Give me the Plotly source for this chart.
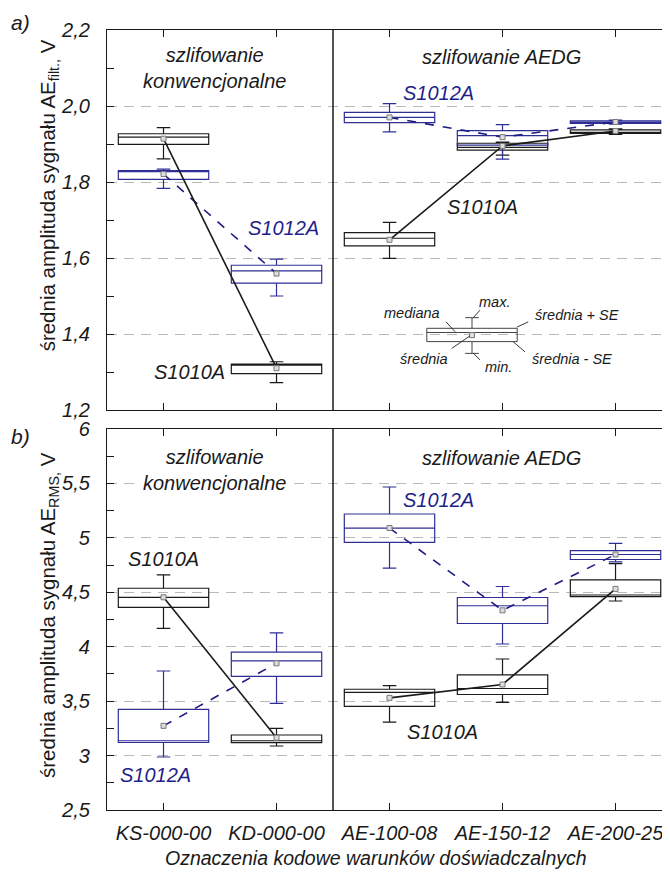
import plotly.graph_objects as go

# ---------------- data ----------------
categories = ["KS-000-00", "KD-000-00", "AE-100-08", "AE-150-12", "AE-200-25"]
xpos = [0, 1, 2, 3, 4]

# panel a) AE_filt
s1010_filt_mean = [1.914, 1.310, 1.648, 1.895, 1.934]
s1010_filt_lo = [1.899, 1.296, 1.632, 1.884, 1.928]
s1010_filt_hi = [1.927, 1.321, 1.667, 1.902, 1.937]
s1010_filt_median = [1.918, 1.318, 1.652, 1.891, 1.930]
s1010_filt_min = [1.861, 1.272, 1.599, 1.871, 1.925]
s1010_filt_max = [1.943, 1.327, 1.694, 1.905, 1.940]

s1012_filt_mean = [1.821, 1.559, 1.970, 1.918, 1.958]
s1012_filt_lo = [1.807, 1.534, 1.956, 1.897, 1.954]
s1012_filt_hi = [1.830, 1.581, 1.983, 1.935, 1.961]
s1012_filt_median = [1.828, 1.566, 1.970, 1.922, 1.957]
s1012_filt_min = [1.783, 1.500, 1.932, 1.860, 1.952]
s1012_filt_max = [1.834, 1.597, 2.006, 1.951, 1.963]

# panel b) AE_RMS
s1010_rms_mean = [4.454, 3.164, 3.530, 3.653, 4.531]
s1010_rms_lo = [4.362, 3.118, 3.451, 3.561, 4.460]
s1010_rms_hi = [4.537, 3.189, 3.609, 3.741, 4.613]
s1010_rms_median = [4.454, 3.136, 3.580, 3.616, 4.475]
s1010_rms_min = [4.169, 3.088, 3.308, 3.488, 4.420]
s1010_rms_max = [4.659, 3.250, 3.642, 3.887, 4.764]

s1012_rms_mean = [3.273, 3.848, 5.090, 4.334, 4.847]
s1012_rms_lo = [3.120, 3.728, 4.959, 4.213, 4.801]
s1012_rms_hi = [3.425, 3.951, 5.219, 4.452, 4.882]
s1012_rms_median = [3.136, 3.869, 5.090, 4.376, 4.847]
s1012_rms_min = [2.987, 3.480, 4.721, 4.025, 4.780]
s1012_rms_max = [3.777, 4.127, 5.467, 4.553, 4.949]

# key (explanation box) in panel a)
key_x = [2.73]
key_mean = [1.397]
key_lo = [1.380]
key_hi = [1.415]
key_median = [1.404]
key_min = [1.349]
key_max = [1.443]

# ---------------- styles ----------------
FONT = "Liberation Sans, Arial, sans-serif"
BLACK = "#1a1a1a"
BLUE_BOX = "#2e2e96"
BLUE_LINE = "#1c1c85"
BLUE_TXT = "#1f1f8c"
GRID = "#b9b9b9"

fig = go.Figure()


def add_box(xs, lo, med, hi, mn, mx, color, xa, ya, lw=1.2):
    fig.add_trace(go.Box(
        x=xs, q1=lo, median=med, q3=hi, lowerfence=mn, upperfence=mx,
        width=0.8, whiskerwidth=0.15, fillcolor="rgba(255,255,255,0)",
        line=dict(color=color, width=lw), marker=dict(size=0),
        boxpoints=False, xaxis=xa, yaxis=ya, showlegend=False, hoverinfo="skip"))


def with_gap(vals):
    return vals[:2] + [None] + vals[2:]


gap_x = with_gap(xpos)


def add_mean_line(means, color, dash, xa, ya):
    fig.add_trace(go.Scatter(
        x=gap_x, y=with_gap(means), mode="lines", connectgaps=False,
        line=dict(color=color, width=1.6, dash=dash),
        xaxis=xa, yaxis=ya, showlegend=False, hoverinfo="skip"))
    fig.add_trace(go.Scatter(
        x=xpos, y=means, mode="markers",
        marker=dict(symbol="square", size=5, color="#dcdcdc",
                    line=dict(color="#7a7a7a", width=1)),
        xaxis=xa, yaxis=ya, showlegend=False, hoverinfo="skip"))


# panel a
add_box(xpos, s1010_filt_lo, s1010_filt_median, s1010_filt_hi, s1010_filt_min, s1010_filt_max, BLACK, "x", "y")
add_box(xpos, s1012_filt_lo, s1012_filt_median, s1012_filt_hi, s1012_filt_min, s1012_filt_max, BLUE_BOX, "x", "y")
add_mean_line(s1012_filt_mean, BLUE_LINE, "dash", "x", "y")
add_mean_line(s1010_filt_mean, BLACK, "solid", "x", "y")
# key
add_box(key_x, key_lo, key_median, key_hi, key_min, key_max, "#444444", "x", "y", lw=1.0)
fig.add_trace(go.Scatter(x=key_x, y=key_mean, mode="markers",
                         marker=dict(symbol="square", size=5, color="#e0e0e0",
                                     line=dict(color="#7a7a7a", width=1)),
                         xaxis="x", yaxis="y", showlegend=False, hoverinfo="skip"))

# panel b
add_box(xpos, s1010_rms_lo, s1010_rms_median, s1010_rms_hi, s1010_rms_min, s1010_rms_max, BLACK, "x2", "y2")
add_box(xpos, s1012_rms_lo, s1012_rms_median, s1012_rms_hi, s1012_rms_min, s1012_rms_max, BLUE_BOX, "x2", "y2")
add_mean_line(s1012_rms_mean, BLUE_LINE, "dash", "x2", "y2")
add_mean_line(s1010_rms_mean, BLACK, "solid", "x2", "y2")

# key leader lines (explanation diagram)
leaders = [
    ([2.742, 2.801], [1.443, 1.463]),
    ([2.500, 2.580], [1.432, 1.406]),
    ([3.126, 3.228], [1.418, 1.432]),
    ([2.550, 2.712], [1.362, 1.395]),
    ([2.742, 2.801], [1.349, 1.332]),
    ([3.093, 3.199], [1.380, 1.353]),
]
for lx, ly in leaders:
    fig.add_trace(go.Scatter(x=lx, y=ly, mode="lines", line=dict(color="#222", width=0.9),
                             xaxis="x", yaxis="y", showlegend=False, hoverinfo="skip"))

# ---------------- axes ----------------
XR = [-0.5, 4.482]
common_x = dict(range=XR, tickmode="array", tickvals=xpos, ticks="inside", ticklen=7,
                tickcolor=BLACK, showline=True, linecolor=BLACK, linewidth=1.3,
                mirror="ticks", showgrid=False, zeroline=False)
yfont = dict(family=FONT, size=20, color=BLACK, style="italic")
fig.update_layout(
    xaxis=dict(**common_x, anchor="y", showticklabels=False),
    xaxis2=dict(**common_x, anchor="y2", ticktext=categories, showticklabels=True,
                tickfont=dict(family=FONT, size=20, color=BLACK, style="italic"),
                ticklabelstandoff=5),
    yaxis=dict(domain=[0.5128, 1.0], range=[1.2, 2.2], dtick=0.2, tick0=1.2,
               tickformat=".1f", ticks="inside", ticklen=7, tickcolor=BLACK,
               showline=True, linecolor=BLACK, linewidth=1.3, zeroline=False,
               showgrid=True, gridcolor=GRID, gridwidth=1.3, griddash="10px,7px",
               minor=dict(dtick=0.1, tick0=1.2, ticks="inside", ticklen=7, tickcolor=BLACK, showgrid=False),
               tickfont=yfont, ticklabelstandoff=12, anchor="x"),
    yaxis2=dict(domain=[0.0, 0.4885], range=[2.5, 6.0], dtick=0.5, tick0=2.5,
                ticks="inside", ticklen=7, tickcolor=BLACK,
                showline=True, linecolor=BLACK, linewidth=1.3, zeroline=False,
                showgrid=True, gridcolor=GRID, gridwidth=1.3, griddash="10px,7px",
                minor=dict(dtick=0.25, tick0=2.5, ticks="inside", ticklen=7, tickcolor=BLACK, showgrid=False),
                tickfont=yfont, ticklabelstandoff=12, anchor="x2"),
)

# divider lines
for ydom in ["y domain", "y2 domain"]:
    xr = "x" if ydom == "y domain" else "x2"
    fig.add_shape(type="line", xref=xr, yref=ydom, x0=1.5, x1=1.5, y0=0, y1=1,
                  line=dict(color=BLACK, width=1.5))

# ---------------- annotations ----------------
ann = []


def txt(x, y, s, xr, yr, color=BLACK, size=20, italic=True, **kw):
    d = dict(x=x, y=y, xref=xr, yref=yr, text=s, showarrow=False,
             xanchor="center", yanchor="middle",
             font=dict(family=FONT, size=size, color=color, style="italic" if italic else "normal"))
    d.update(kw)
    ann.append(d)


txt(0.447, 2.100, "szlifowanie<br>konwencjonalne", "x", "y")
txt(2.987, 2.129, "szlifowanie AEDG", "x", "y")
txt(2.429, 2.034, "S1012A", "x", "y", color=BLUE_TXT)
txt(2.819, 1.734, "S1010A", "x", "y")
txt(1.058, 1.679, "S1012A", "x", "y", color=BLUE_TXT)
txt(0.226, 1.300, "S1010A", "x", "y")

txt(0.447, 5.623, "szlifowanie<br>konwencjonalne", "x2", "y2", bgcolor="white", borderpad=4)
txt(2.987, 5.734, "szlifowanie AEDG", "x2", "y2")
txt(0.004, 4.806, "S1010A", "x2", "y2")
txt(-0.075, 2.822, "S1012A", "x2", "y2", color=BLUE_TXT)
txt(2.429, 5.348, "S1012A", "x2", "y2", color=BLUE_TXT)
txt(2.465, 3.217, "S1010A", "x2", "y2")

# key labels
KS = 14.5
txt(2.925, 1.484, "max.", "x", "y", size=KS)
txt(2.199, 1.455, "mediana", "x", "y", size=KS)
txt(3.659, 1.450, "średnia + SE", "x", "y", size=KS)
txt(2.305, 1.334, "średnia", "x", "y", size=KS)
txt(2.960, 1.313, "min.", "x", "y", size=KS)
txt(3.615, 1.334, "średnia - SE", "x", "y", size=KS)

# panel labels, axis titles
txt(0, 1, "a)", "paper", "paper", size=21, xshift=-87, yshift=8)
txt(0, 0.4885, "b)", "paper", "paper", size=21, xshift=-87, yshift=-8)
txt(0.478, 0, "Oznaczenia kodowe warunków doświadczalnych", "paper", "paper",
    size=19.5, yshift=-48)
txt(0, 0.788, "średnia amplituda sygnału AE<sub>filt.,</sub> V", "paper", "paper",
    size=20.5, italic=False, textangle=-90, xshift=-58)
txt(0, 0.25, "średnia amplituda sygnału AE<sub>RMS,</sub> V", "paper", "paper",
    size=20.5, italic=False, textangle=-90, xshift=-58)

# page body adds an 8 px offset, so the figure is 8 px smaller than the window
fig.update_layout(
    annotations=ann,
    width=662, height=865,
    margin=dict(l=99, r=0, t=22, b=63),
    paper_bgcolor="white", plot_bgcolor="white",
    boxmode="overlay", separators=", ",
    font=dict(family=FONT, color=BLACK),
    showlegend=False,
)

fig.write_html("out.html")
